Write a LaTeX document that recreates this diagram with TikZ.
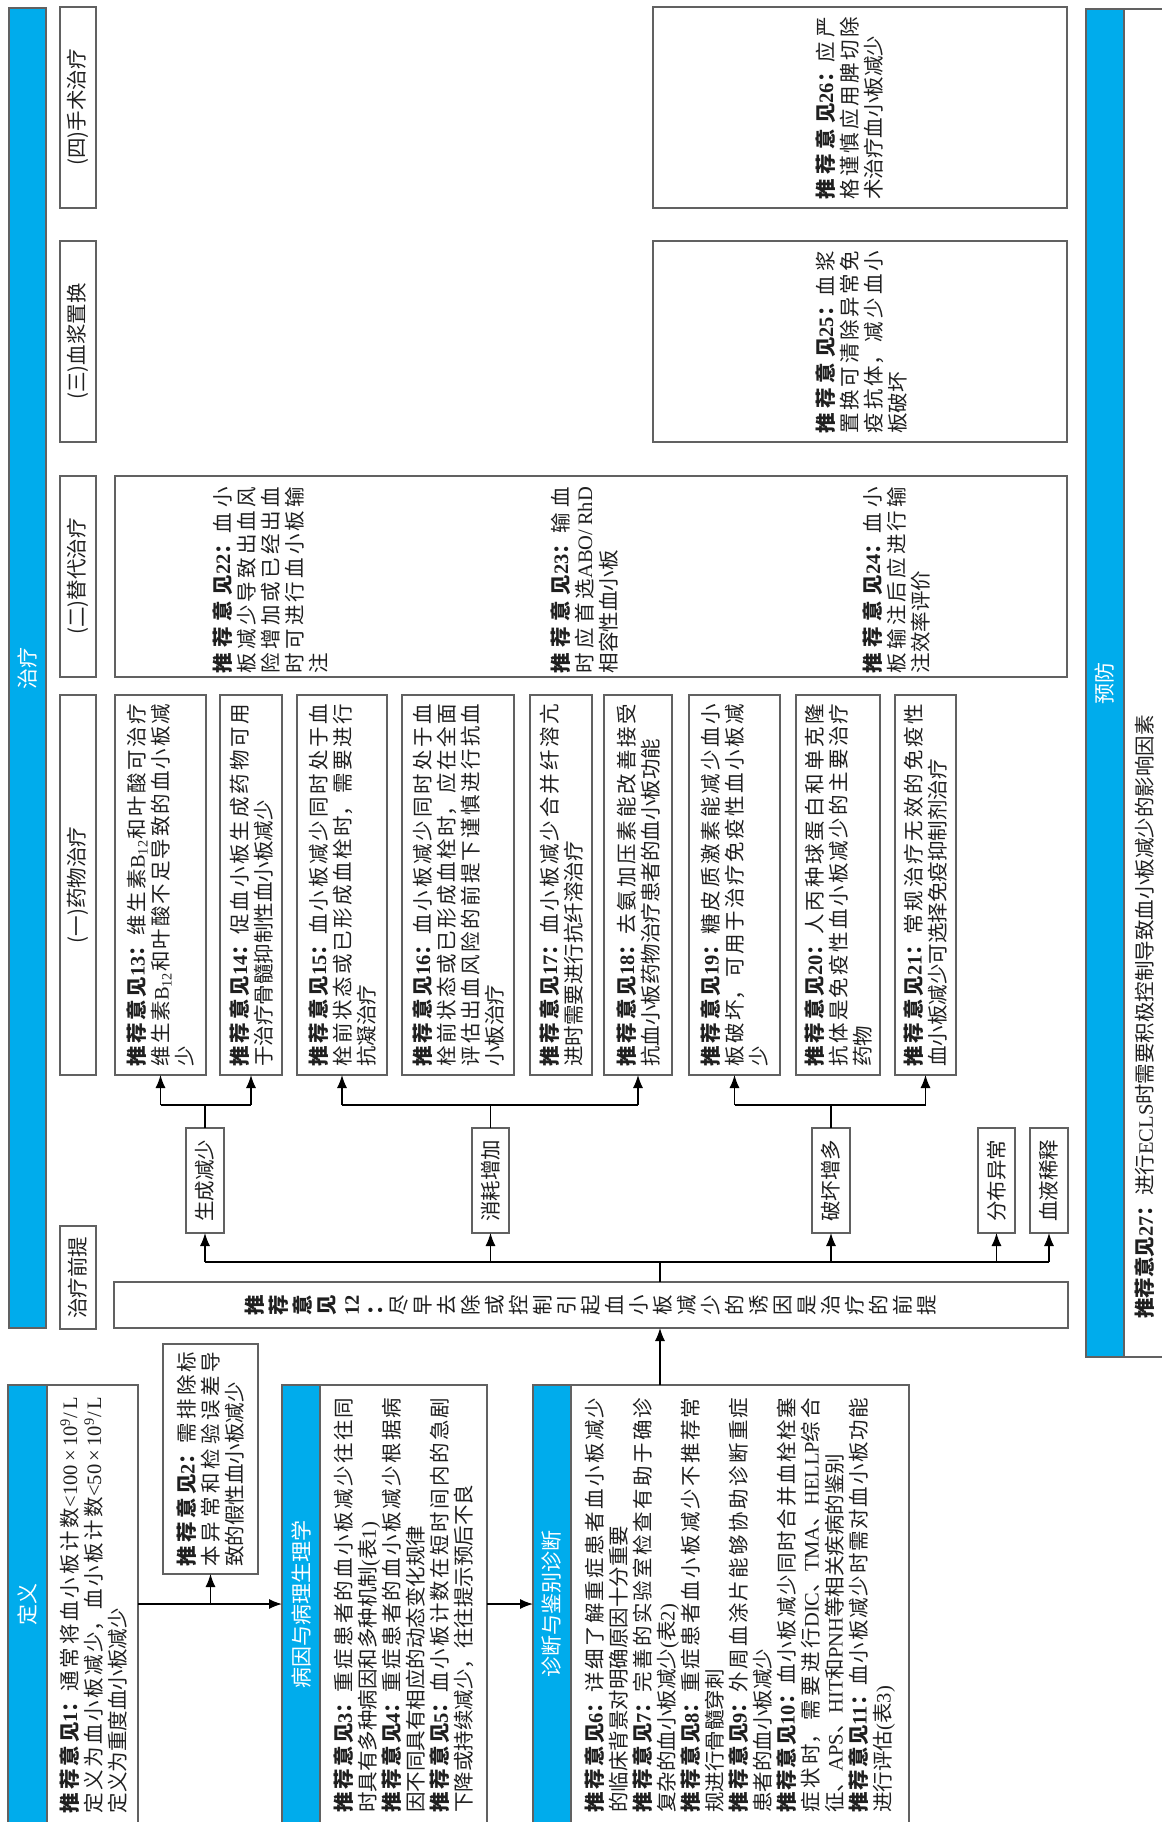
\documentclass[tikz,border=0pt]{standalone}
\usepackage{fontspec}
\setmainfont{Noto Sans CJK SC}
\newfontfamily\lat{Liberation Serif}
\usetikzlibrary{fit,arrows.meta}
\definecolor{zblue}{RGB}{0,172,236}
\XeTeXlinebreaklocale "zh"
\XeTeXlinebreakskip=0pt plus 3pt minus 0.15pt
\setlength{\parindent}{0pt}
\newcommand\tj[1]{{\bfseries 推荐意见{\lat #1}：}}
\newcommand\nl{\linebreak}
\begin{document}
\begin{tikzpicture}[x=0.5pt,y=-0.5pt,
  frm/.style={draw=black!62, line width=0.7pt, inner sep=0pt, outer sep=0pt},
  zbar/.style={frm, fill=zblue},
  ln/.style={draw=black, line width=0.65pt},
  arr/.style={ln, -{Latex[length=6.5pt,width=5pt]}},
  bfont/.style={font=\fontsize{10.25}{12}\selectfont},
  txt/.style={rotate=90, inner sep=0pt, bfont, text=black!88, align=justify},
  lbl/.style={rotate=90, inner sep=0pt, bfont, text=black!88},
  hdr/.style={rotate=90, inner sep=0pt, font=\fontsize{10.5}{12}\selectfont, text=white}]
\useasboundingbox (0,0) rectangle (1162,1822);
\clip (0,0) rectangle (1162,1822);
\fill[white] (0,0) rectangle (1162,1822);

% ---------- treatment bar
\node[zbar, fit={(9,8)(46,1328)}] (zlbar) {};
\node[hdr] (zlt) at (zlbar.center) {治疗};

% ---------- prevention
\node[frm, fit={(1086,9)(1180,1357)}] (yfbox) {};
\node[zbar, fit={(1086,9)(1124,1357)}] (yfbar) {};
\node[hdr] (yft) at (yfbar.center) {预防};
\node[lbl, anchor=west] (t27) at (1145,1319) {\tj{27}进行{\lat ECLS}时需要积极控制导致血小板减少的影响因素};

% ---------- section headers
\node[frm, fit={(60,7)(96,208)}] (h4) {};
\node[lbl] (h4t) at (h4.center) {(四)手术治疗};
\node[frm, fit={(60,241)(96,442)}] (h3) {};
\node[lbl] (h3t) at (h3.center) {(三)血浆置换};
\node[frm, fit={(60,476)(96,677)}] (h2) {};
\node[lbl] (h2t) at (h2.center) {(二)替代治疗};
\node[frm, fit={(60,695)(96,1075)}] (h1) {};
\node[lbl] (h1t) at (h1.center) {(一)药物治疗};
\node[frm, fit={(60,1226)(96,1329)}] (hq) {};
\node[lbl] (hqt) at (hq.center) {治疗前提};

% ---------- surgery / plasma exchange
\node[frm, fit={(653,7)(1067,208)}] (b26) {};
\node[txt, text width=91.5pt, anchor=north] (t26) at (815,108) {\tj{26}应严\nl 格谨慎应用脾切除\nl 术治疗血小板减少};
\node[frm, fit={(653,241)(1067,442)}] (b25) {};
\node[txt, text width=91.5pt, anchor=north] (t25) at (815,342) {\tj{25}血浆\nl 置换可清除异常免\nl 疫抗体，减少血小\nl 板破坏};

% ---------- substitution therapy
\node[frm, fit={(115,476)(1067,677)}] (b2x) {};
\node[txt, text width=93pt, anchor=north] (t22) at (212,580) {\tj{22}血小\nl 板减少导致出血风\nl 险增加或已经出血\nl 时可进行血小板输\nl 注};
\node[txt, text width=93pt, anchor=north] (t23) at (550,580) {\tj{23}输血\nl 时应首选{\lat ABO/RhD}\nl 相容性血小板};
\node[txt, text width=93pt, anchor=north] (t24) at (862,580) {\tj{24}血小\nl 板输注后应进行输\nl 注效率评价};

% ---------- drug therapy
\node[frm, fit={(115,695)(206,1075)}] (b13) {};
\node[txt, text width=181.5pt] (t13) at (b13.center) {\tj{13}维生素{\lat B\textsubscript{12}}和叶酸可治疗\nl 维生素{\lat B\textsubscript{12}}和叶酸不足导致的血小板减\nl 少};
\node[frm, fit={(220,695)(282,1075)}] (b14) {};
\node[txt, text width=181.5pt] (t14) at (b14.center) {\tj{14}促血小板生成药物可用\nl 于治疗骨髓抑制性血小板减少};
\node[frm, fit={(297,695)(387,1075)}] (b15) {};
\node[txt, text width=181.5pt] (t15) at (b15.center) {\tj{15}血小板减少同时处于血\nl 栓前状态或已形成血栓时，需要进行\nl 抗凝治疗};
\node[frm, fit={(402,695)(514,1075)}] (b16) {};
\node[txt, text width=181.5pt] (t16) at (b16.center) {\tj{16}血小板减少同时处于血\nl 栓前状态或已形成血栓时，应在全面\nl 评估出血风险的前提下谨慎进行抗血\nl 小板治疗};
\node[frm, fit={(530,695)(592,1075)}] (b17) {};
\node[txt, text width=181.5pt] (t17) at (b17.center) {\tj{17}血小板减少合并纤溶亢\nl 进时需要进行抗纤溶治疗};
\node[frm, fit={(604,695)(672,1075)}] (b18) {};
\node[txt, text width=181.5pt] (t18) at (b18.center) {\tj{18}去氨加压素能改善接受\nl 抗血小板药物治疗患者的血小板功能};
\node[frm, fit={(689,695)(780,1075)}] (b19) {};
\node[txt, text width=181.5pt] (t19) at (b19.center) {\tj{19}糖皮质激素能减少血小\nl 板破坏，可用于治疗免疫性血小板减\nl 少};
\node[frm, fit={(796,695)(880,1075)}] (b20) {};
\node[txt, text width=181.5pt] (t20) at (b20.center) {\tj{20}人丙种球蛋白和单克隆\nl 抗体是免疫性血小板减少的主要治疗\nl 药物};
\node[frm, fit={(895,695)(956,1075)}] (b21) {};
\node[txt, text width=181.5pt] (t21) at (b21.center) {\tj{21}常规治疗无效的免疫性\nl 血小板减少可选择免疫抑制剂治疗};

% ---------- mechanisms
\node[frm, fit={(186,1128)(224,1233)}] (gen) {};
\node[lbl] (gent) at (gen.center) {生成减少};
\node[frm, fit={(472,1128)(509,1233)}] (con) {};
\node[lbl] (cont) at (con.center) {消耗增加};
\node[frm, fit={(812,1128)(850,1233)}] (des) {};
\node[lbl] (dest) at (des.center) {破坏增多};
\node[frm, fit={(978,1128)(1015,1233)}] (dist) {};
\node[lbl] (distt) at (dist.center) {分布异常};
\node[frm, fit={(1030,1128)(1068,1233)}] (dil) {};
\node[lbl] (dilt) at (dil.center) {血液稀释};

% ---------- recommendation 12
\node[frm, fit={(114,1282)(1068,1328)}] (r12) {};
\node[lbl, align=center] (t12) at (r12.center) {{\bfseries 推}\\{\bfseries 荐}\\{\bfseries 意}\\{\bfseries 见}\\{\bfseries\lat 12}\\{\bfseries ：}\\尽\\早\\去\\除\\或\\控\\制\\引\\起\\血\\小\\板\\减\\少\\的\\诱\\因\\是\\治\\疗\\的\\前\\提};

% ---------- bottom row
\node[frm, fit={(8,1385)(138,1823)}] (def) {};
\node[zbar, fit={(8,1385)(47,1823)}] (defbar) {};
\node[hdr] (deft) at (defbar.center) {定义};
\node[txt, text width=208pt] (tdef) at (93,1605) {\tj{1}通常将血小板计数{\lat <100\,×\,10\textsuperscript{9}/L}\nl 定义为血小板减少，血小板计数{\lat <50\,×\,10\textsuperscript{9}/L}\nl 定义为重度血小板减少};

\node[frm, fit={(163,1344)(258,1574)}] (rec2) {};
\node[txt, text width=107.5pt] (t2) at (rec2.center) {\tj{2}需排除标\nl 本异常和检验误差导\nl 致的假性血小板减少};

\node[frm, fit={(282,1385)(487,1823)}] (eti) {};
\node[zbar, fit={(282,1385)(320,1823)}] (etibar) {};
\node[hdr] (etit) at (etibar.center) {病因与病理生理学};
\node[txt, text width=207.5pt] (teti) at (404,1605) {\tj{3}重症患者的血小板减少往往同\nl 时具有多种病因和多种机制{\lat (}表{\lat 1)}\par
\tj{4}重症患者的血小板减少根据病\nl 因不同具有相应的动态变化规律\par
\tj{5}血小板计数在短时间内的急剧\nl 下降或持续减少，往往提示预后不良};

\node[frm, fit={(533,1385)(909,1823)}] (dia) {};
\node[zbar, fit={(533,1385)(571,1823)}] (diabar) {};
\node[hdr] (diat) at (diabar.center) {诊断与鉴别诊断};
\node[txt, text width=207.5pt] (tdia) at (740,1605) {\tj{6}详细了解重症患者血小板减少\nl 的临床背景对明确原因十分重要\par
\tj{7}完善的实验室检查有助于确诊\nl 复杂的血小板减少{\lat (}表{\lat 2)}\par
\tj{8}重症患者血小板减少不推荐常\nl 规进行骨髓穿刺\par
\tj{9}外周血涂片能够协助诊断重症\nl 患者的血小板减少\par
\tj{10}血小板减少同时合并血栓栓塞\nl 症状时，需要进行{\lat DIC}、{\lat TMA}、{\lat HELLP}综合\nl 征、{\lat APS}、{\lat HIT}和{\lat PNH}等相关疾病的鉴别\par
\tj{11}血小板减少时需对血小板功能\nl 进行评估{\lat (}表{\lat 3)}};

% ---------- connectors
\draw[arr] (def.east) -- (eti.west);
\draw[arr] (def.east -| rec2.south) -- (rec2.south);
\draw[arr] (eti.east) -- (dia.west);
\coordinate (c12) at (660,1305);
\draw[arr] (dia.north -| c12) -- (r12.south -| c12);
\coordinate (bus) at (660,1262);
\draw[ln] (r12.north -| c12) -- (bus);
\draw[ln] (bus -| gen.south) -- (bus -| dil.south);
\foreach \n in {gen,con,des,dist,dil} \draw[arr] (bus -| \n.south) -- (\n.south);
\coordinate (ub) at (0,1105);
\draw[ln] (gen.north) -- (ub -| gen.north);
\draw[ln] (ub -| b13.south) -- (ub -| b14.south);
\draw[arr] (ub -| b13.south) -- (b13.south);
\draw[arr] (ub -| b14.south) -- (b14.south);
\draw[ln] (con.north) -- (ub -| con.north);
\draw[ln] (ub -| b15.south) -- (ub -| b18.south);
\draw[arr] (ub -| b15.south) -- (b15.south);
\draw[arr] (ub -| b18.south) -- (b18.south);
\draw[ln] (des.north) -- (ub -| des.north);
\draw[ln] (ub -| b19.south) -- (ub -| b21.south);
\draw[arr] (ub -| b19.south) -- (b19.south);
\draw[arr] (ub -| b21.south) -- (b21.south);
\end{tikzpicture}
\end{document}
